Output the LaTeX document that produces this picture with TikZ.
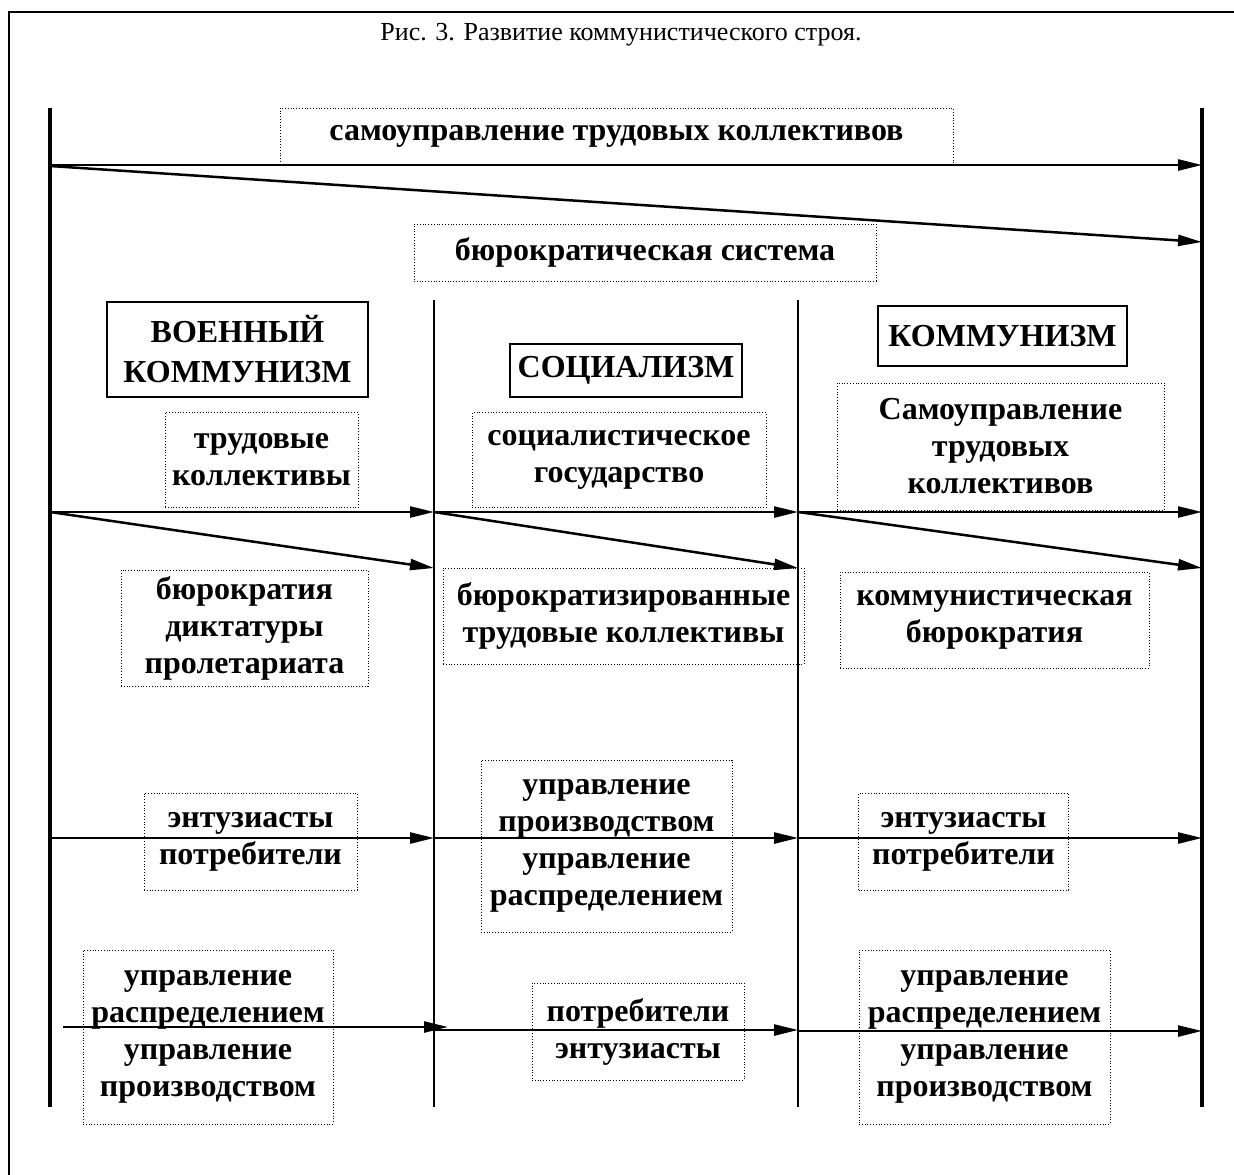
\documentclass[tikz,border=0pt]{standalone}
\usepackage{fontspec}
\setmainfont{Liberation Serif}
\usetikzlibrary{arrows.meta}
\begin{document}
\begin{tikzpicture}[x=1pt,y=-1pt,
  dbox/.style={draw, dotted, line width=0.8pt, inner sep=0pt, align=center,
    font=\fontsize{32}{37}\selectfont\bfseries},
  hbox/.style={draw, line width=2.5pt, inner sep=0pt, align=center,
    font=\fontsize{32}{40}\selectfont\bfseries},
  arr/.style={line width=2.5pt, -{Triangle[length=24pt,width=11pt]}},
  thick line/.style={line width=4.5pt},
  thin line/.style={line width=2pt},
  frame/.style={line width=2.5pt}]
\useasboundingbox (0,0) rectangle (1234,1175);
% outer frame (cropped)
\coordinate (fr1) at (1234,12);
\coordinate (fr2) at (9,12);
\coordinate (fr3) at (9,1175);
\draw[frame] (fr1) -- (fr2) -- (fr3);
\node[font=\fontsize{26}{32}\selectfont] (title) at (621,35) {Рис. 3. Развитие коммунистического строя.};
% vertical lines
\coordinate (Lt) at (50,108);  \coordinate (Lb) at (50,1107);
\coordinate (Rt) at (1202,108); \coordinate (Rb) at (1202,1107);
\coordinate (M1t) at (434,300); \coordinate (M1b) at (434,1107);
\coordinate (M2t) at (798,300); \coordinate (M2b) at (798,1107);
\draw[thick line] (Lt) -- (Lb);
\draw[thick line] (Rt) -- (Rb);
\draw[thin line] (M1t) -- (M1b);
\draw[thin line] (M2t) -- (M2b);
% top boxes
\node[dbox, minimum width=673, minimum height=57] (selfgov) at (616.5,136.5) {самоуправление трудовых коллективов};
\node[dbox, minimum width=462, minimum height=57] (bursys) at (645,252.5) {бюрократическая система};
% headings
\node[hbox, minimum width=261, minimum height=95] (war) at (237.5,349.5) {ВОЕННЫЙ\\КОММУНИЗМ};
\node[hbox, minimum width=232, minimum height=53] (soc) at (626,370.5) {СОЦИАЛИЗМ};
\node[hbox, minimum width=249, minimum height=60] (com) at (1002.5,336) {КОММУНИЗМ};
% row 1 boxes
\node[dbox, minimum width=193, minimum height=95] (tk) at (261.5,460) {трудовые\\коллективы};
\node[dbox, minimum width=294, minimum height=95] (sg) at (619,460) {социалистическое\\государство};
\node[dbox, minimum width=327, minimum height=127] (stk) at (1000.5,446.5) {Самоуправление\\трудовых\\коллективов};
\node[dbox, minimum width=247, minimum height=116] (bdp) at (244.5,628) {бюрократия\\диктатуры\\пролетариата};
\node[dbox, minimum width=361, minimum height=96] (btk) at (623.5,616) {бюрократизированные\\трудовые коллективы};
\node[dbox, minimum width=309, minimum height=96] (kb) at (994.5,620) {коммунистическая\\бюрократия};
% row 2 boxes
\node[dbox, minimum width=213, minimum height=97] (ep1) at (250.5,841.5) {энтузиасты\\потребители};
\node[dbox, minimum width=251, minimum height=172] (upr) at (606.5,846) {управление\\производством\\управление\\распределением};
\node[dbox, minimum width=210, minimum height=97] (ep2) at (963.5,841.5) {энтузиасты\\потребители};
% row 3 boxes
\node[dbox, minimum width=250, minimum height=174] (urp1) at (208,1037) {управление\\распределением\\управление\\производством};
\node[dbox, minimum width=212, minimum height=97] (pe) at (638,1031.5) {потребители\\энтузиасты};
\node[dbox, minimum width=251, minimum height=174] (urp2) at (984.5,1037) {управление\\распределением\\управление\\производством};
% arrow anchor coordinates
\coordinate (a0) at (50,165);   \coordinate (a0e) at (1202,165);
\coordinate (b0) at (50,166);   \coordinate (b0e) at (1202,242);
\coordinate (r1a) at (50,512); \coordinate (r1b) at (434,512); \coordinate (r1c) at (798,512); \coordinate (r1d) at (1202,512);
\coordinate (d1b) at (434,568); \coordinate (d1c) at (798,568); \coordinate (d1d) at (1202,568);
\coordinate (r2a) at (50,838); \coordinate (r2b) at (434,838); \coordinate (r2c) at (798,838); \coordinate (r2d) at (1202,838);
\coordinate (r3s) at (63,1027); \coordinate (r3t) at (448,1027);
\coordinate (r3b) at (434,1030); \coordinate (r3c) at (798,1030); \coordinate (r3cc) at (798,1031); \coordinate (r3d) at (1202,1031);
% arrows
\draw[arr] (a0) -- (a0e);
\draw[arr] (b0) -- (b0e);
\draw[arr] (r1a) -- (r1b);
\draw[arr] (r1b) -- (r1c);
\draw[arr] (r1c) -- (r1d);
\draw[arr] (r1a) -- (d1b);
\draw[arr] (r1b) -- (d1c);
\draw[arr] (r1c) -- (d1d);
\draw[arr] (r2a) -- (r2b);
\draw[arr] (r2b) -- (r2c);
\draw[arr] (r2c) -- (r2d);
\draw[arr] (r3s) -- (r3t);
\draw[arr] (r3b) -- (r3c);
\draw[arr] (r3cc) -- (r3d);
\end{tikzpicture}
\end{document}
